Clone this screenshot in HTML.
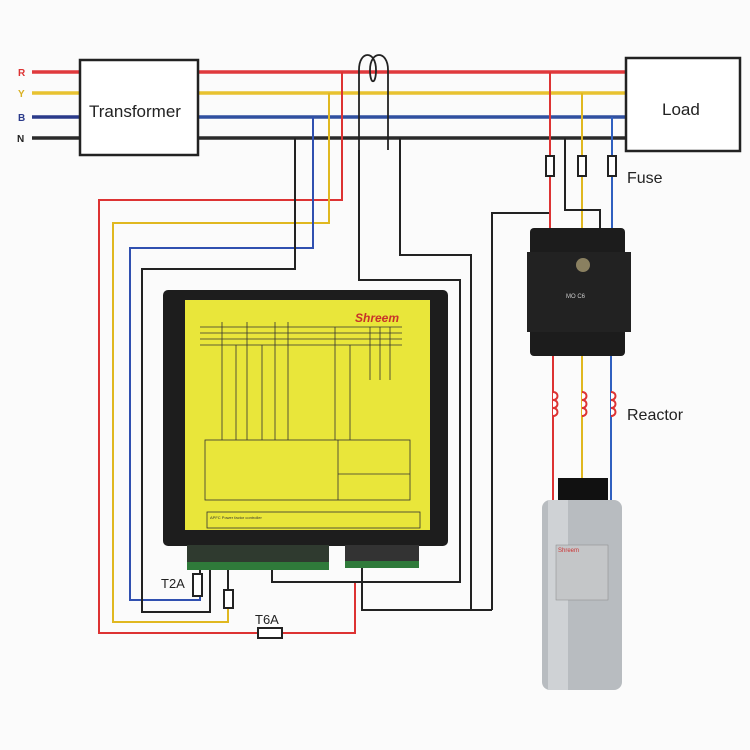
<!DOCTYPE html>
<html><head><style>
html,body{margin:0;padding:0;background:#fff;}
svg{display:block;font-family:"Liberation Sans",sans-serif;}
</style></head><body>
<svg width="750" height="750" viewBox="0 0 750 750" xmlns="http://www.w3.org/2000/svg">
<rect width="750" height="750" fill="#fbfbfb"/>
<!-- labels -->
<g font-size="10" font-weight="bold">
<text x="18" y="76" fill="#d33">R</text>
<text x="18" y="97" fill="#d9b020">Y</text>
<text x="18" y="121" fill="#2a3a8a">B</text>
<text x="17" y="142" fill="#222">N</text>
</g>
<g stroke-width="3.5" fill="none">
<line x1="32" y1="72" x2="80" y2="72" stroke="#e0393c"/>
<line x1="32" y1="93" x2="80" y2="93" stroke="#e8c230"/>
<line x1="32" y1="117" x2="80" y2="117" stroke="#2a3a8a"/>
<line x1="32" y1="138" x2="80" y2="138" stroke="#2a2a2a"/>
<line x1="198" y1="72" x2="626" y2="72" stroke="#e0393c"/>
<line x1="198" y1="93" x2="626" y2="93" stroke="#e8c230"/>
<line x1="198" y1="117" x2="626" y2="117" stroke="#3050a0"/>
<line x1="198" y1="138" x2="626" y2="138" stroke="#2a2a2a"/>
</g>
<rect x="80" y="60" width="118" height="95" fill="#fff" stroke="#222" stroke-width="2.5"/>
<text x="89" y="117" font-size="17" fill="#222">Transformer</text>
<rect x="626" y="58" width="114" height="93" fill="#fff" stroke="#222" stroke-width="2.5"/>
<text x="662" y="115" font-size="17" fill="#222">Load</text>
<!-- CT loops -->
<path d="M359 150 V70 C359 50 376 50 376 70 C376 85 370 85 370 70 C370 50 388 50 388 70 V140 M388 140 V150" stroke="#222" stroke-width="1.8" fill="none"/>
<g fill="none" stroke-width="2">
<!-- measurement wires -->
<path d="M342 72 V200 H99 V633 H258 M280 633 H355 V582" stroke="#d33"/>
<path d="M329 93 V223 H113 V622 H228 V608" stroke="#e0b820"/>
<path d="M313 117 V248 H130 V600 H200 V595" stroke="#3050b0"/>
<path d="M295 138 V269 H142 V612 H210 V565" stroke="#222"/>
<path d="M200 575 V545 M228 590 V560" stroke="#222"/>
<!-- CT wires -->
<path d="M359 150 V280 H460 V582 H272 V565" stroke="#222"/>
<path d="M400 138 V255 H471 V610 H362 V568" stroke="#222"/>
<path d="M492 610 V213 H550" stroke="#222"/>
<path d="M492 610 H372" stroke="#222"/>
<!-- right feed -->
<path d="M550 72 V228" stroke="#d33"/>
<path d="M582 93 V228" stroke="#e0b820"/>
<path d="M612 117 V228" stroke="#3060c0"/>
<path d="M565 138 V210 H600 V228" stroke="#222"/>
<path d="M553 355 V500" stroke="#d33"/>
<path d="M582 355 V490" stroke="#e0b820"/>
<path d="M611 355 V500" stroke="#3060c0"/>
</g>
<!-- fuses -->
<g fill="#fff" stroke="#222" stroke-width="2">
<rect x="546" y="156" width="8" height="20"/>
<rect x="578" y="156" width="8" height="20"/>
<rect x="608" y="156" width="8" height="20"/>
<rect x="193" y="574" width="9" height="22"/>
<rect x="224" y="590" width="9" height="18"/>
<rect x="258" y="628" width="24" height="10"/>
</g>
<text x="627" y="183" font-size="16" fill="#222">Fuse</text>
<text x="627" y="420" font-size="16" fill="#222">Reactor</text>
<text x="161" y="588" font-size="13" fill="#222">T2A</text>
<text x="255" y="624" font-size="13" fill="#222">T6A</text>
<!-- reactor coils -->
<g fill="#fff" stroke-width="2">
<path d="M553 392 c6 0 6 8 0 8 c6 0 6 8 0 8 c6 0 6 8 0 8" stroke="#d33"/>
<path d="M582 392 c6 0 6 8 0 8 c6 0 6 8 0 8 c6 0 6 8 0 8" stroke="#d33"/>
<path d="M611 392 c6 0 6 8 0 8 c6 0 6 8 0 8 c6 0 6 8 0 8" stroke="#d33"/>
</g>
<!-- contactor -->
<rect x="530" y="228" width="95" height="128" rx="4" fill="#1c1c1c"/>
<rect x="527" y="252" width="104" height="80" fill="#222"/>
<circle cx="583" cy="265" r="7" fill="#8a8060"/>
<text x="566" y="298" font-size="6" fill="#ccc">MO C6</text>
<!-- capacitor -->
<rect x="558" y="478" width="50" height="24" fill="#111"/>
<rect x="542" y="500" width="80" height="190" rx="8" fill="#b8bcc0"/>
<rect x="548" y="500" width="20" height="190" fill="#cfd2d5"/>
<rect x="556" y="545" width="52" height="55" fill="#c4c6c8" stroke="#888" stroke-width="0.5"/>
<text x="558" y="552" font-size="6" fill="#c33">Shreem</text>
<!-- controller -->
<rect x="163" y="290" width="285" height="256" rx="5" fill="#1d1d1d"/>
<rect x="185" y="300" width="245" height="230" fill="#e9e63a"/>
<text x="355" y="322" font-size="12" font-weight="bold" font-style="italic" fill="#c8332a">Shreem</text>
<g stroke="#333" stroke-width="0.8" fill="none">
<line x1="200" y1="327" x2="402" y2="327"/>
<line x1="200" y1="333" x2="402" y2="333"/>
<line x1="200" y1="339" x2="402" y2="339"/>
<line x1="200" y1="345" x2="402" y2="345"/>
<line x1="222" y1="322" x2="222" y2="440"/>
<line x1="236" y1="345" x2="236" y2="440"/>
<line x1="247" y1="322" x2="247" y2="440"/>
<line x1="262" y1="345" x2="262" y2="440"/>
<line x1="275" y1="322" x2="275" y2="440"/>
<line x1="288" y1="322" x2="288" y2="440"/>
<line x1="335" y1="327" x2="335" y2="440"/>
<line x1="350" y1="345" x2="350" y2="440"/>
<line x1="370" y1="327" x2="370" y2="380"/>
<line x1="380" y1="327" x2="380" y2="380"/>
<line x1="390" y1="327" x2="390" y2="380"/>
<rect x="205" y="440" width="205" height="60"/>
<line x1="338" y1="440" x2="338" y2="500"/>
<line x1="338" y1="474" x2="410" y2="474"/>
<rect x="207" y="512" width="213" height="16"/>
</g>
<text x="210" y="519" font-size="4" fill="#333">APFC Power factor controller</text>
<!-- terminals -->
<rect x="187" y="545" width="142" height="25" fill="#2f3a2f"/>
<rect x="187" y="562" width="142" height="8" fill="#2f7a3a"/>
<rect x="345" y="545" width="74" height="23" fill="#333"/>
<rect x="345" y="561" width="74" height="7" fill="#2f7a3a"/>
</svg>
</body></html>
